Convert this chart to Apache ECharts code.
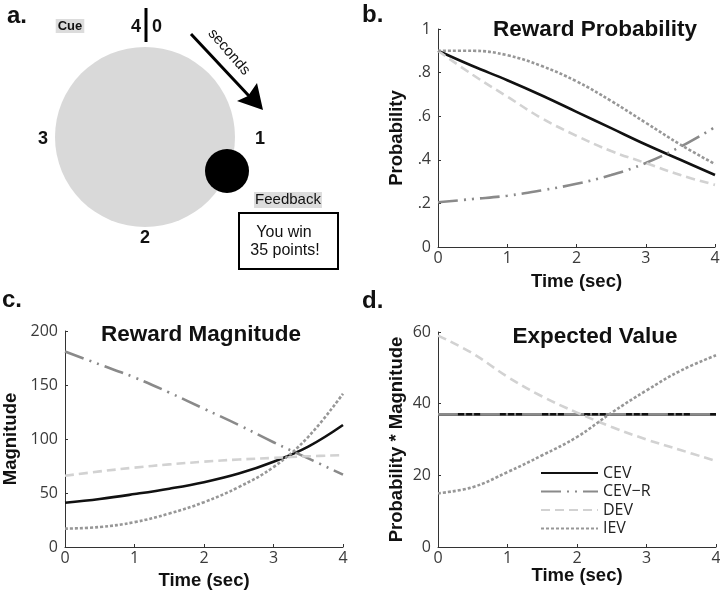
<!DOCTYPE html>
<html>
<head>
<meta charset="utf-8">
<script src="https://cdn.jsdelivr.net/npm/echarts@6/dist/echarts.min.js"></script>
<style>
  html, body { margin: 0; padding: 0; background: #fff; }
  #chart { width: 720px; height: 593px; }
</style>
</head>
<body>
<div id="chart"></div>
<script>
// time points (sec)
const times = [0, 0.5, 1, 1.5, 2, 2.5, 3, 3.5, 4]

// b. reward probability
const probCEV = [0.90, 0.83, 0.765, 0.695, 0.62, 0.545, 0.47, 0.40, 0.33]
const probCEVR = [0.205, 0.22, 0.235, 0.26, 0.29, 0.33, 0.385, 0.46, 0.55]
const probDEV = [0.90, 0.79, 0.69, 0.59, 0.51, 0.44, 0.385, 0.33, 0.285]
const probIEV = [0.90, 0.90, 0.88, 0.83, 0.76, 0.67, 0.57, 0.47, 0.38]

// c. reward magnitude
const magCEV = [41, 44.5, 49, 54, 60, 68, 79, 93, 113]
const magCEVR = [181, 169, 157, 143, 128, 113, 97, 82, 67]
const magDEV = [66, 70, 73.5, 76.5, 79, 81, 82.5, 84, 85]
const magIEV = [17, 18.5, 23, 31, 41.5, 55.5, 74, 102, 142]

// d. expected value
const evCEV = [37, 37, 37, 37, 37, 37, 37, 37, 37]
const evCEVR = [37, 37, 37, 37, 37, 37, 37, 37, 37]
const evDEV = [59, 54, 47.5, 42, 37.5, 33.5, 30, 27, 24]
const evIEV = [15, 16.7, 20.9, 25.6, 30.7, 37.5, 43.7, 49.3, 53.5]

const seriesNames = ['CEV', 'CEV\u2212R', 'DEV', 'IEV']
const probTicks = ['0', '.2', '.4', '.6', '.8', '1']

const styles = [
  { color: '#111', type: 'solid', width: 2.6 },
  { color: '#8a8a8a', type: [20, 6, 2, 6, 2, 6], width: 2.6 },
  { color: '#d2d2d2', type: [9, 5], width: 2.6 },
  { color: '#979797', type: [3, 2], width: 2.6 },
]

const sans = 'Liberation Sans'
const tickFont = { fontFamily: 'Open Sans', fontSize: 16, color: '#3a3a3a' }
const axisColor = '#333'
const nameFont = { fontFamily: sans, fontWeight: 'bold', fontSize: 18.5, color: '#111' }
const titleFont = { fontFamily: sans, fontWeight: 'bold', fontSize: 22.5, color: '#111' }

const chart = echarts.init(document.getElementById('chart'))

function pairs(ys) {
  return times.map((t, i) => [t, ys[i]])
}

function makeSeries(gridIdx, arrs) {
  return arrs.map((ys, k) => ({
    name: seriesNames[k],
    type: 'line',
    xAxisIndex: gridIdx,
    yAxisIndex: gridIdx,
    data: pairs(ys),
    smooth: 0.4,
    symbol: 'none',
    lineStyle: { color: styles[k].color, type: styles[k].type, width: styles[k].width, cap: 'butt' },
    itemStyle: { color: styles[k].color },
    emphasis: { disabled: true },
  }))
}

function xAx(gridIdx, nameGap) {
  return {
    gridIndex: gridIdx,
    type: 'value',
    min: 0, max: 4, interval: 1,
    name: 'Time (sec)',
    nameLocation: 'middle',
    nameGap,
    nameTextStyle: nameFont,
    axisLine: { lineStyle: { color: axisColor, width: 1 } },
    axisTick: { inside: true, length: 3, lineStyle: { color: axisColor } },
    axisLabel: { ...tickFont, margin: 3 },
    splitLine: { show: false },
  }
}

function yAx(gridIdx, name, max, interval, nameGap, formatter) {
  return {
    gridIndex: gridIdx,
    type: 'value',
    min: 0, max, interval,
    name,
    nameLocation: 'middle',
    nameRotate: 90,
    nameGap,
    nameTextStyle: nameFont,
    axisLine: { show: true, lineStyle: { color: axisColor, width: 1 } },
    axisTick: { show: true, inside: true, length: 3, lineStyle: { color: axisColor } },
    axisLabel: { ...tickFont, margin: 7, formatter },
    splitLine: { show: false },
  }
}

const txt = (text, x, y, font, align, extra) => ({
  type: 'text',
  x, y,
  silent: true,
  style: Object.assign({
    text, font, fill: '#111',
    align: align || 'center', verticalAlign: 'middle',
    textAlign: align || 'center', textVerticalAlign: 'middle',
  }, extra || {}),
})

chart.setOption({
  animation: false,
  backgroundColor: '#fff',
  title: [
    { text: 'Reward Probability', left: 590, top: 13, textAlign: 'center', textStyle: titleFont },
    { text: 'Reward Magnitude', left: 196, top: 318, textAlign: 'center', textStyle: titleFont },
    { text: 'Expected Value', left: 590, top: 320, textAlign: 'center', textStyle: titleFont },
  ],
  grid: [
    { left: 438, top: 29, width: 277, height: 218, containLabel: false, outerBoundsMode: 'none' },
    { left: 65, top: 331, width: 278, height: 216, containLabel: false, outerBoundsMode: 'none' },
    { left: 438, top: 332, width: 278, height: 215, containLabel: false, outerBoundsMode: 'none' },
  ],
  xAxis: [xAx(0, 25), xAx(1, 24), xAx(2, 16)],
  yAxis: [
    yAx(0, 'Probability', 1, 0.2, 32, (v) => probTicks[Math.round(v * 5)]),
    yAx(1, 'Magnitude', 200, 50, 45),
    yAx(2, 'Probability * Magnitude', 60, 20, 32),
  ],
  legend: {
    data: seriesNames,
    orient: 'vertical',
    left: 540,
    top: 465,
    padding: 0,
    itemWidth: 57,
    itemHeight: 12,
    itemGap: 2.5,
    selectedMode: false,
    itemStyle: { opacity: 0 },
    textStyle: { fontFamily: 'Open Sans', fontSize: 16, lineHeight: 16, color: '#222' },
  },
  series: [
    ...makeSeries(0, [probCEV, probCEVR, probDEV, probIEV]),
    ...makeSeries(1, [magCEV, magCEVR, magDEV, magIEV]),
    ...makeSeries(2, [evCEV, evCEVR, evDEV, evIEV]),
  ],
  graphic: [
    // panel letters
    txt('a.', 7, 16, 'bold 24px ' + sans, 'left'),
    txt('b.', 362, 15, 'bold 24px ' + sans, 'left'),
    txt('c.', 2, 300, 'bold 24px ' + sans, 'left'),
    txt('d.', 362, 301, 'bold 24px ' + sans, 'left'),
    // clock face
    { type: 'circle', silent: true, shape: { cx: 145, cy: 137, r: 90 }, style: { fill: '#d9d9d9' } },
    { type: 'circle', silent: true, shape: { cx: 227, cy: 171, r: 22 }, style: { fill: '#000' } },
    { type: 'line', silent: true, shape: { x1: 146, y1: 8, x2: 146, y2: 42 }, style: { stroke: '#000', lineWidth: 3 } },
    txt('4', 141, 27, 'bold 18px ' + sans, 'right'),
    txt('0', 152, 27, 'bold 18px ' + sans, 'left'),
    txt('1', 260, 139, 'bold 18px ' + sans),
    txt('2', 145, 238, 'bold 18px ' + sans),
    txt('3', 43, 139, 'bold 18px ' + sans),
    txt('Cue', 70, 26, 'bold 13px ' + sans, 'center', { backgroundColor: '#dcdcdc', padding: [1, 2, 0, 2] }),
    // arrow
    { type: 'line', silent: true, shape: { x1: 191, y1: 34, x2: 249, y2: 96 }, style: { stroke: '#000', lineWidth: 3 } },
    { type: 'polygon', silent: true, shape: { points: [[263, 110], [237, 101], [248, 96], [257, 83]] }, style: { fill: '#000' } },
    { type: 'text', silent: true, x: 229, y: 52, rotation: -49 * Math.PI / 180,
      style: { text: 'seconds', font: '15px ' + sans, fill: '#111', align: 'center', verticalAlign: 'middle', textAlign: 'center', textVerticalAlign: 'middle' } },
    // feedback
    txt('Feedback', 288, 200, '15px ' + sans, 'center', { backgroundColor: '#dcdcdc', padding: [1, 1, 0, 1] }),
    { type: 'rect', silent: true, shape: { x: 239, y: 213, width: 99, height: 56 }, style: { fill: '#fff', stroke: '#000', lineWidth: 2 } },
    txt('You win', 284, 233, '16px ' + sans),
    txt('35 points!', 285, 251, '16px ' + sans),
  ],
})
</script>
</body>
</html>
